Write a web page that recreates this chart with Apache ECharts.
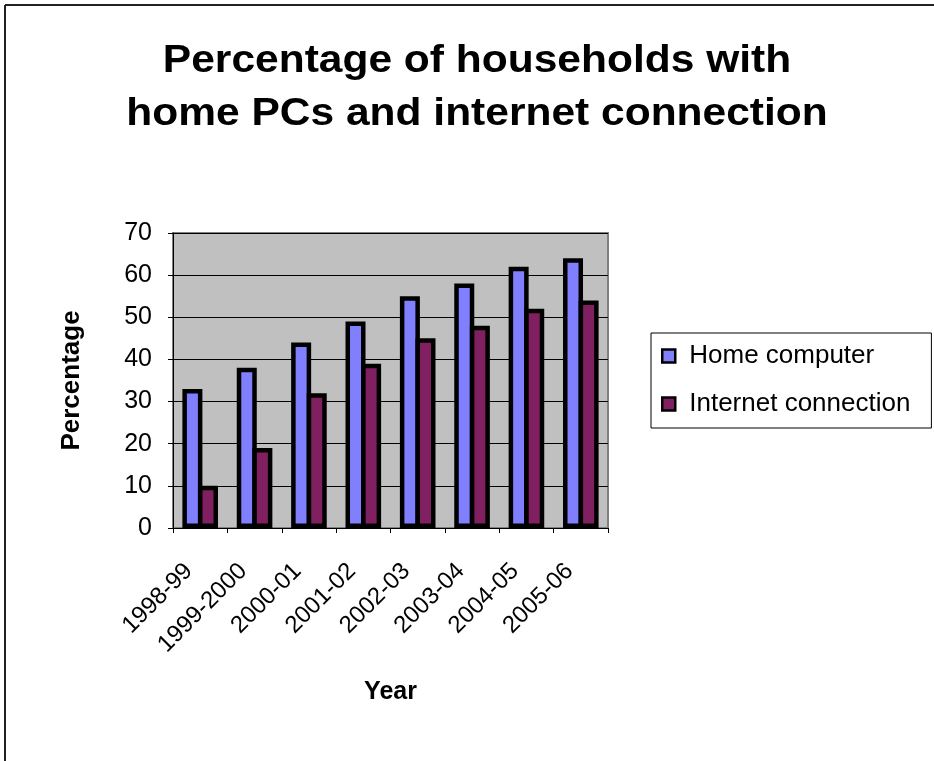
<!DOCTYPE html>
<html>
<head>
<meta charset="utf-8">
<title>Percentage of households with home PCs and internet connection</title>
<script src="https://cdn.jsdelivr.net/npm/echarts@6/dist/echarts.min.js"></script>
<style>
  html, body { margin: 0; padding: 0; background: #ffffff; }
  #chart { width: 934px; height: 761px; }
</style>
</head>
<body>
<div id="chart"></div>
<script>
// Survey years (x categories)
var years = ['1998-99', '1999-2000', '2000-01', '2001-02', '2002-03', '2003-04', '2004-05', '2005-06'];
// Share of households (%)
var homeComputer = [33, 38, 44, 49, 55, 58, 62, 64];
var internetConnection = [10, 19, 32, 39, 45, 48, 52, 54];
// Value axis ticks
var yTicks = [0, 10, 20, 30, 40, 50, 60, 70];

var FONT = '"Liberation Sans", Arial, Helvetica, sans-serif';

var chart = echarts.init(document.getElementById('chart'), null, { renderer: 'canvas' });

var option = {
  backgroundColor: '#ffffff',
  animation: false,
  textStyle: { fontFamily: FONT, color: '#000' },
  graphic: [
    // outer frame (top and left edges)
    { type: 'line', shape: { x1: 5, y1: 5, x2: 934, y2: 5 }, style: { stroke: '#222', lineWidth: 2 }, silent: true },
    { type: 'line', shape: { x1: 5, y1: 5, x2: 5, y2: 761 }, style: { stroke: '#222', lineWidth: 2 }, silent: true },
    // two-line chart title
    { type: 'text', x: 477, y: 61, scaleX: 1.09, style: { text: 'Percentage of households with', align: 'center', verticalAlign: 'middle', font: 'bold 39px ' + FONT, fill: '#000' } },
    { type: 'text', x: 477, y: 114, scaleX: 1.09, style: { text: 'home PCs and internet connection', align: 'center', verticalAlign: 'middle', font: 'bold 39px ' + FONT, fill: '#000' } }
  ],
  grid: {
    left: 173, top: 233, right: 326, bottom: 233,
    show: true,
    backgroundColor: '#c0c0c0',
    borderColor: '#808080',
    borderWidth: 2
  },
  legend: {
    orient: 'vertical',
    left: 651, top: 333,
    padding: [10, 21, 11, 10],
    itemGap: 22,
    itemWidth: 13, itemHeight: 13,
    icon: 'rect',
    backgroundColor: '#ffffff',
    borderColor: '#000',
    borderWidth: 1,
    itemStyle: { borderColor: '#000', borderWidth: 2.5 },
    textStyle: { fontSize: 26, fontFamily: FONT, color: '#000', padding: [0, 0, 0, 9] },
    data: ['Home computer', 'Internet connection']
  },
  xAxis: {
    type: 'category',
    data: years,
    boundaryGap: true,
    name: 'Year',
    nameLocation: 'middle',
    nameGap: 152,
    nameTextStyle: { fontSize: 25, fontWeight: 'bold', fontFamily: FONT, color: '#000' },
    axisLine: { show: true, lineStyle: { color: '#000', width: 1 } },
    axisTick: { show: true, length: 5, lineStyle: { color: '#000' } },
    axisLabel: { rotate: 45, fontSize: 24, fontFamily: FONT, color: '#000', margin: 28, padding: [0, 16, 0, 0], interval: 0 },
    splitLine: { show: false }
  },
  yAxis: {
    type: 'value',
    min: yTicks[0],
    max: yTicks[yTicks.length - 1],
    interval: yTicks[1] - yTicks[0],
    name: 'Percentage',
    nameLocation: 'middle',
    nameGap: 88,
    nameRotate: 90,
    nameTextStyle: { fontSize: 26, fontWeight: 'bold', fontFamily: FONT, color: '#000' },
    axisLine: { show: true, lineStyle: { color: '#000', width: 1 } },
    axisTick: { show: true, length: 5, lineStyle: { color: '#000' } },
    axisLabel: { fontSize: 25, fontFamily: FONT, color: '#000', margin: 21 },
    splitLine: { show: true, lineStyle: { color: '#000', width: 1 } }
  },
  series: [
    {
      name: 'Home computer',
      type: 'bar',
      data: homeComputer,
      barWidth: 20,
      barGap: '-22%',
      itemStyle: { color: '#8080ff', borderColor: '#000', borderWidth: 4.5 }
    },
    {
      name: 'Internet connection',
      type: 'bar',
      data: internetConnection,
      barWidth: 20,
      barGap: '-22%',
      itemStyle: { color: '#802060', borderColor: '#000', borderWidth: 4.5 }
    }
  ]
};

chart.setOption(option);
</script>
</body>
</html>
